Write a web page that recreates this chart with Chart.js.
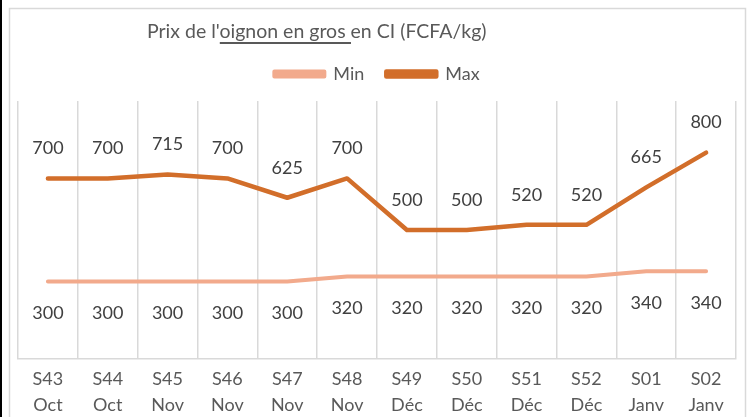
<!DOCTYPE html>
<html>
  <head>
    <meta charset="utf-8">
    <title>Prix de l'oignon</title>
    <script src="https://cdn.jsdelivr.net/npm/chart.js"></script>
    <style>
      body { margin: 0; background: #fff; }
      #wrap { width: 752px; height: 417px; }
    </style>
  </head>
  <body>
    <div id="wrap"><canvas id="myChart" width="752" height="417"></canvas></div>
    <script>
      var weeks = ["S43", "S44", "S45", "S46", "S47", "S48", "S49", "S50", "S51", "S52", "S01", "S02"];
      var months = ["Oct", "Oct", "Nov", "Nov", "Nov", "Nov", "Déc", "Déc", "Déc", "Déc", "Janv", "Janv"];
      var minValues = [300, 300, 300, 300, 300, 320, 320, 320, 320, 320, 340, 340];
      var maxValues = [700, 700, 715, 700, 625, 700, 500, 500, 520, 520, 665, 800];
      var titleText = "Prix de l'oignon en gros en CI (FCFA/kg)";

      var FONT = "Lato, 'Open Sans', sans-serif";

      // frame, title and value labels (no datalabels plugin offline)
      var decor = {
        id: "decor",
        beforeDraw: function (chart) {
          var c = chart.ctx;
          c.save();
          c.fillStyle = "#ffffff";
          c.fillRect(0, 0, chart.width, chart.height);
          c.fillStyle = "#000000";
          c.fillRect(0, 0, 2, chart.height);
          c.strokeStyle = "#d9d9d9";
          c.lineWidth = 1.5;
          c.strokeRect(9.5, 8.5, 736, chart.height + 20);
          c.restore();
        },
        afterDraw: function (chart) {
          var c = chart.ctx;
          c.save();
          c.font = "19.5px " + FONT;
          c.fillStyle = "#595959";
          c.textBaseline = "middle";
          c.textAlign = "left";
          var x = 147, y = 32;
          c.fillText(titleText, x, y);
          // underline under "oignon en gros "
          var pre = "Prix de l'";
          var u = "oignon en gros ";
          var x1 = x + c.measureText(pre).width;
          var x2 = x1 + c.measureText(u).width;
          c.fillRect(x1, y + 10, x2 - x1, 2);
          c.restore();
        },
        afterDatasetsDraw: function (chart) {
          var c = chart.ctx;
          c.save();
          c.font = "18px " + FONT;
          c.fillStyle = "#404040";
          c.textAlign = "center";
          c.textBaseline = "middle";
          chart.data.datasets.forEach(function (ds, i) {
            var meta = chart.getDatasetMeta(i);
            var off = ds.label === "Max" ? -30 : 32;
            meta.data.forEach(function (pt, j) {
              c.fillText(String(ds.data[j]), pt.x, pt.y + off);
            });
          });
          c.restore();
        }
      };

      var ctx = document.getElementById("myChart").getContext("2d");
      var myChart = new Chart(ctx, {
        type: "line",
        data: {
          labels: weeks.map(function (w, i) { return [w, months[i]]; }),
          datasets: [
            {
              label: "Min",
              data: minValues,
              borderColor: "#f2aa8c",
              backgroundColor: "#f2aa8c",
              borderWidth: 4,
              borderCapStyle: "round",
              borderJoinStyle: "round",
              pointRadius: 0,
              tension: 0,
            },
            {
              label: "Max",
              data: maxValues,
              borderColor: "#d26e2a",
              backgroundColor: "#d26e2a",
              borderWidth: 4.5,
              borderCapStyle: "round",
              borderJoinStyle: "round",
              pointRadius: 0,
              tension: 0,
            },
          ],
        },
        options: {
          responsive: false,
          animation: false,
          layout: { padding: { left: 18, right: 16, top: 43, bottom: 0 } },
          plugins: {
            title: { display: false },
            // empty spacer under the legend
            subtitle: {
              display: true,
              text: " ",
              weight: 500,
              font: { size: 1, lineHeight: 1 },
              padding: { top: 0, bottom: 7 },
            },
            tooltip: { enabled: false },
            legend: {
              position: "top",
              labels: {
                boxWidth: 50,
                boxHeight: 5,
                padding: 22,
                color: "#595959",
                font: { family: FONT, size: 18 },
              },
            },
          },
          scales: {
            x: {
              offset: true,
              grid: { offset: true, color: "#d9d9d9", lineWidth: 1.5, drawTicks: false },
              border: { color: "#d9d9d9", width: 1.5 },
              ticks: {
                color: "#595959",
                padding: 8,
                maxRotation: 0,
                autoSkip: false,
                font: { family: FONT, size: 18, lineHeight: 1.4 },
              },
              afterFit: function (scale) {
                scale.height = 58;
              },
            },
            y: {
              display: false,
              min: 0,
              max: 1000,
            },
          },
        },
        plugins: [decor],
      });
    </script>
  </body>
</html>
